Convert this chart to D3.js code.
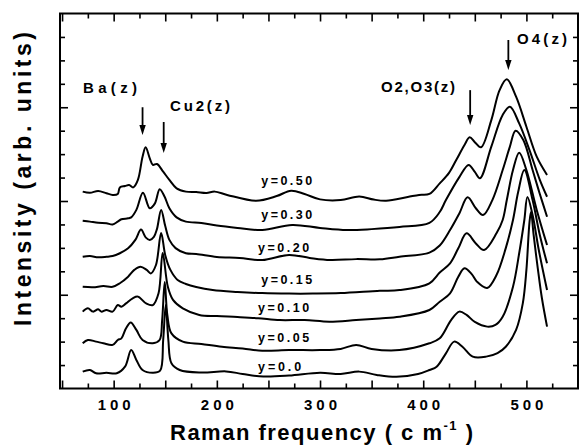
<!DOCTYPE html>
<html>
<head>
<meta charset="utf-8">
<script src="https://cdn.jsdelivr.net/npm/d3@7"></script>
<style>
  body { margin: 0; background: #fff; }
  svg { display: block; font-family: "Liberation Sans", Arial, Helvetica, sans-serif; font-weight: bold; }
</style>
</head>
<body>
<div id="chart"></div>
<script>
// spectra: [Raman shift (cm-1), intensity (arb. units, stacked)]
const y000 = [[70,0.72],[77,0.79],[83,0.65],[93,0.67],[103,0.65],[111,0.93],[117,1.64],[122,1.22],[128,0.79],[138,0.67],[145,0.76],[148,2.07],[150.5,3.56],[153,2.07],[156,1.08],[164,0.79],[185,0.68],[209,0.73],[225,0.62],[245,0.51],[270,0.55],[300,0.67],[320,0.62],[338,0.72],[355,0.58],[374,0.50],[395,0.62],[406,0.79],[413,0.93],[422,1.50],[430,2.00],[438,1.78],[448,1.36],[461,1.36],[472,1.51],[480,1.78],[490,2.50],[496.5,3.63],[500,5.06],[503,7.10],[504.5,7.53],[507,6.55],[511,5.14],[515,3.86],[520,2.64]];
const y005 = [[70,1.93],[75,2.07],[83,2.00],[90,1.93],[99,1.86],[104,2.07],[107.5,2.14],[112,2.57],[116.5,2.82],[122,2.50],[128,2.07],[138,1.93],[144.5,2.07],[147,2.92],[149.5,4.54],[152,3.14],[156,2.35],[167,2.00],[185,1.90],[205,1.78],[225,1.71],[244,1.61],[270,1.64],[300,1.64],[320,1.69],[335,1.86],[350,1.69],[377,1.64],[406,1.93],[416,2.14],[427,2.92],[435,3.28],[442,3.14],[450,2.84],[462,2.64],[470,2.71],[477,3.06],[487,4.34],[493,5.77],[498,7.19],[501,8.17],[506,7.40],[512,5.91],[520,4.20]];
const y010 = [[70,3.28],[75,3.42],[80,3.28],[85,3.38],[88,3.28],[93,3.35],[99,3.28],[104,3.56],[107.5,3.49],[112,3.63],[118.5,3.85],[123.5,3.92],[131.5,3.63],[138,3.56],[143.5,4.06],[147.5,5.78],[152.5,4.34],[157.5,3.78],[167,3.42],[183,3.14],[200,3.09],[220,3.05],[240,3.00],[261,2.92],[285,2.92],[309,2.85],[335,2.92],[358,2.99],[377,3.06],[406,3.35],[416,3.70],[426,4.06],[434,4.77],[440,5.13],[447,4.88],[452,4.56],[462,4.29],[471,4.84],[480,5.99],[487,7.19],[492,8.38],[498,9.32],[506,8.04],[513,6.55],[520,5.34]];
const y015 = [[70,4.34],[80,4.32],[90,4.37],[99,4.34],[106,4.49],[114,4.77],[120,5.06],[126,5.20],[132,5.06],[136,4.91],[141,5.27],[146,6.63],[150,5.69],[155,5.06],[162,4.63],[170,4.46],[180,4.33],[196,4.20],[220,4.12],[244,4.07],[270,4.05],[293,4.05],[320,4.07],[358,4.17],[377,4.20],[406,4.49],[416,4.95],[426,5.34],[434,5.98],[442,6.62],[451,6.19],[459,5.91],[471,6.62],[477,7.19],[481,8.04],[487,9.32],[493,10.06],[500,9.32],[510,7.62],[520,6.12]];
const y020 = [[70,5.62],[77,5.65],[85,5.60],[93,5.62],[99,5.65],[106,5.77],[114,5.98],[121,6.34],[126.5,6.78],[131,6.45],[135,6.34],[139,6.47],[142,6.81],[146,7.62],[150,6.93],[154,6.34],[160,5.99],[170,5.77],[180,5.74],[200,5.61],[222,5.57],[244,5.48],[270,5.70],[290,5.57],[310,5.48],[335,5.52],[358,5.51],[377,5.62],[406,5.80],[416,6.10],[426,6.76],[435,7.47],[443,8.16],[451,7.69],[458,7.40],[467,8.04],[477,9.32],[484,10.32],[489.5,11.00],[497,10.60],[506,9.32],[513,8.30],[520,7.33]];
const y030 = [[70,7.16],[77,7.12],[85,7.07],[93,7.05],[99,7.00],[104,7.12],[107.5,7.22],[114,7.26],[117,7.30],[122,7.62],[128.4,8.35],[135,7.69],[140,7.90],[144.6,8.50],[149.4,8.18],[154,7.69],[161,7.30],[170,7.12],[185,7.06],[200,6.95],[220,6.85],[244,6.76],[273,6.98],[300,6.85],[326,6.76],[350,6.80],[377,6.89],[406,7.07],[416,7.53],[422,8.04],[435,9.02],[444,9.54],[450,9.24],[455,8.97],[466,10.32],[477,11.67],[484,12.02],[493,11.31],[503,10.17],[513,8.90],[520,8.18]];
const y050 = [[70,8.40],[77,8.35],[85,8.43],[93,8.33],[99,8.26],[104,8.30],[106,8.58],[111,8.64],[115,8.68],[119,8.58],[123.5,8.90],[128,9.89],[131,10.29],[135,9.82],[138,9.54],[142,9.58],[148,9.25],[154,8.90],[161,8.54],[170,8.40],[180,8.38],[190,8.34],[198,8.40],[210,8.26],[238,8.01],[258,8.21],[272,8.44],[285,8.30],[300,8.07],[320,8.04],[338,8.19],[352,8.06],[364,8.01],[385,8.17],[396,8.26],[406,8.30],[416,8.75],[425,9.20],[432,9.75],[440,10.39],[445,10.72],[450,10.51],[456,10.29],[466,11.45],[474,12.73],[481,13.19],[490,12.45],[500,11.17],[510,9.89],[520,9.11]];

const seriesNames = ["y=0.0", "y=0.05", "y=0.10", "y=0.15", "y=0.20", "y=0.30", "y=0.50"];
const spectra = [y000, y005, y010, y015, y020, y030, y050];

const xTickLabels = [100, 200, 300, 400, 500];
const peakNames = ["Ba(z)", "Cu2(z)", "O2,O3(z)", "O4(z)"];

// layout of labels / arrows, in data units
const seriesLabelAt = [[240, 0.75], [240, 1.98], [240, 3.26], [243, 4.46], [240, 5.82], [243, 7.23], [243, 8.68]];
const arrows = [[128, 12.0, 10.82], [148.5, 11.37, 10.05], [445.5, 12.73, 11.24], [482.5, 14.87, 13.59]];
const peakLabels = [
    { x: 70.3, y: 12.61, w: 54, anchor: "start" },
    { x: 154.6, y: 11.84, w: 60, anchor: "start" },
    { x: 430.8, y: 12.65, w: 74, anchor: "end" },
    { x: 490.9, y: 14.7, w: 50, anchor: "start" }
];

const WIDTH = 579;
const HEIGHT = 446;
const LEFT = 60, RIGHT = 578, TOP = 13.5, BOTTOM = 388.5;

const x = d3.scaleLinear().domain([48, 550]).range([LEFT, RIGHT]);
const y = d3.scaleLinear().domain([0, 16]).range([BOTTOM, TOP]);

const svg = d3.select("#chart")
    .append("svg")
        .attr("width", WIDTH)
        .attr("height", HEIGHT);

// spread letters so the visible ink spans `width` px (old scanned lettering is wide)
function fitWidth(node, width, anchor) {
    const len = node.getComputedTextLength();
    const n = node.getNumberOfChars();
    const ls = n > 1 ? (width - len) / (n - 1) : 0;
    node.setAttribute("letter-spacing", ls);
    if (anchor === "middle") node.setAttribute("dx", ls / 2);
    if (anchor === "end") node.setAttribute("dx", ls);
}

// frame ticks
function styleAxis(g) {
    g.select(".domain").remove();
    g.selectAll(".tick line").attr("stroke", "#000").attr("stroke-width", 1.6);
}

const majorX = d3.range(50, 551, 50);
const minorX = d3.range(75, 550, 50);
const majorY = [4, 8, 12];
const minorY = d3.range(1, 16).filter(d => d % 4 !== 0);

svg.append("g")
    .attr("transform", `translate(0,${BOTTOM})`)
    .call(d3.axisBottom(x).tickValues(majorX).tickSize(-8).tickPadding(10.5)
        .tickFormat(d => xTickLabels.includes(d) ? d : ""))
    .call(styleAxis)
    .call(g => g.selectAll(".tick text")
        .attr("font-size", 15).attr("font-weight", "bold").attr("fill", "#000")
        .attr("font-family", "Liberation Sans, Arial, sans-serif")
        .each(function(d) { if (xTickLabels.includes(d)) fitWidth(this, 33, "middle"); }));
svg.append("g")
    .attr("transform", `translate(0,${BOTTOM})`)
    .call(d3.axisBottom(x).tickValues(minorX).tickSize(-5).tickFormat(""))
    .call(styleAxis);
svg.append("g")
    .attr("transform", `translate(0,${TOP})`)
    .call(d3.axisTop(x).tickValues(majorX).tickSize(-8).tickFormat(""))
    .call(styleAxis);
svg.append("g")
    .attr("transform", `translate(0,${TOP})`)
    .call(d3.axisTop(x).tickValues(minorX).tickSize(-5).tickFormat(""))
    .call(styleAxis);
[[d3.axisLeft, LEFT], [d3.axisRight, RIGHT]].forEach(([ax, pos]) => {
    svg.append("g")
        .attr("transform", `translate(${pos},0)`)
        .call(ax(y).tickValues(majorY).tickSize(-8).tickFormat(""))
        .call(styleAxis);
    svg.append("g")
        .attr("transform", `translate(${pos},0)`)
        .call(ax(y).tickValues(minorY).tickSize(-5).tickFormat(""))
        .call(styleAxis);
});

svg.append("rect")
    .attr("x", LEFT).attr("y", TOP)
    .attr("width", RIGHT - LEFT).attr("height", BOTTOM - TOP)
    .attr("fill", "none").attr("stroke", "#000").attr("stroke-width", 2);

// spectra
const line = d3.line()
    .x(d => x(d[0]))
    .y(d => y(d[1]))
    .curve(d3.curveCatmullRom.alpha(0.5));

svg.append("g")
    .selectAll("path")
    .data(spectra)
    .enter()
    .append("path")
        .attr("d", line)
        .attr("fill", "none")
        .attr("stroke", "#000")
        .attr("stroke-width", 2)
        .attr("stroke-linejoin", "round");

// series labels
svg.append("g")
    .selectAll("text")
    .data(seriesNames)
    .enter()
    .append("text")
        .attr("x", (d, i) => x(seriesLabelAt[i][0]))
        .attr("y", (d, i) => y(seriesLabelAt[i][1]))
        .attr("font-size", 12.5)
        .text(d => d)
        .each(function(d) { fitWidth(this, d.length === 5 ? 43 : 51, "start"); });

// peak arrows
const arrowG = svg.append("g");
arrows.forEach(([f, top, tip]) => {
    const ax = x(f), y0 = y(top), y1 = y(tip);
    arrowG.append("line")
        .attr("x1", ax).attr("x2", ax)
        .attr("y1", y0).attr("y2", y1 - 6)
        .attr("stroke", "#000").attr("stroke-width", 1.8);
    arrowG.append("path")
        .attr("d", `M${ax - 3.2},${y1 - 10} L${ax + 3.2},${y1 - 10} L${ax},${y1} Z`)
        .attr("fill", "#000");
});

svg.append("g")
    .selectAll("text")
    .data(peakNames)
    .enter()
    .append("text")
        .attr("x", (d, i) => x(peakLabels[i].x))
        .attr("y", (d, i) => y(peakLabels[i].y))
        .attr("text-anchor", (d, i) => peakLabels[i].anchor)
        .attr("font-size", 15)
        .text(d => d)
        .each(function(d, i) { fitWidth(this, peakLabels[i].w, peakLabels[i].anchor); });

// axis titles
const xTitle = svg.append("text")
    .attr("x", 170)
    .attr("y", 440)
    .attr("font-size", 22);
xTitle.append("tspan").text("Raman frequency ( c m");
xTitle.append("tspan").attr("dy", -10).attr("font-size", 13).text("-1");
xTitle.append("tspan").attr("dy", 10).text(" )");
fitWidth(xTitle.node(), 303, "start");

const yTitle = svg.append("text")
    .attr("transform", "translate(31,326) rotate(-90)")
    .attr("font-size", 23)
    .text("Intensity (arb.  units)");
fitWidth(yTitle.node(), 294, "start");
</script>
</body>
</html>
